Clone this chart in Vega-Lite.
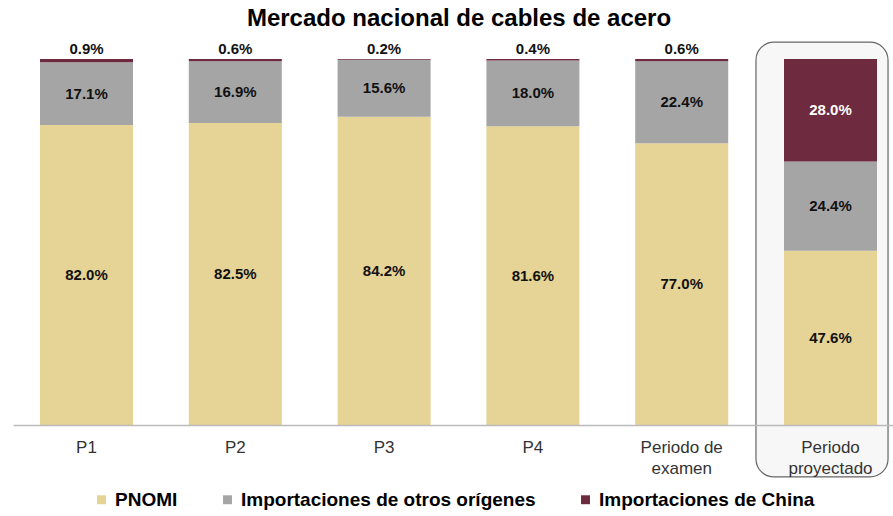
{
  "$schema": "https://vega.github.io/schema/vega-lite/v6.json",
  "autosize": {"type": "none"},
  "width": 880,
  "height": 366,
  "padding": {"left": 13, "top": 59, "right": 0, "bottom": 91},
  "background": "white",
  "title": {
    "text": "Mercado nacional de cables de acero",
    "fontSize": 24,
    "fontWeight": "bold",
    "font": "Liberation Sans",
    "color": "#000000",
    "anchor": "middle",
    "dx": 6,
    "offset": 11
  },
  "config": {
    "font": "Liberation Sans",
    "view": {"stroke": null},
    "legend": {"layout": {"bottom": {"anchor": "middle"}}}
  },
  "datasets": {
    "cuotas": [
      {"periodo": "P1", "serie": "PNOMI", "orden": 1, "valor": 0.820},
      {"periodo": "P1", "serie": "Importaciones de otros orígenes", "orden": 2, "valor": 0.171},
      {"periodo": "P1", "serie": "Importaciones de China", "orden": 3, "valor": 0.009},
      {"periodo": "P2", "serie": "PNOMI", "orden": 1, "valor": 0.825},
      {"periodo": "P2", "serie": "Importaciones de otros orígenes", "orden": 2, "valor": 0.169},
      {"periodo": "P2", "serie": "Importaciones de China", "orden": 3, "valor": 0.006},
      {"periodo": "P3", "serie": "PNOMI", "orden": 1, "valor": 0.842},
      {"periodo": "P3", "serie": "Importaciones de otros orígenes", "orden": 2, "valor": 0.156},
      {"periodo": "P3", "serie": "Importaciones de China", "orden": 3, "valor": 0.002},
      {"periodo": "P4", "serie": "PNOMI", "orden": 1, "valor": 0.816},
      {"periodo": "P4", "serie": "Importaciones de otros orígenes", "orden": 2, "valor": 0.180},
      {"periodo": "P4", "serie": "Importaciones de China", "orden": 3, "valor": 0.004},
      {"periodo": "Periodo de examen", "serie": "PNOMI", "orden": 1, "valor": 0.770},
      {"periodo": "Periodo de examen", "serie": "Importaciones de otros orígenes", "orden": 2, "valor": 0.224},
      {"periodo": "Periodo de examen", "serie": "Importaciones de China", "orden": 3, "valor": 0.006},
      {"periodo": "Periodo proyectado", "serie": "PNOMI", "orden": 1, "valor": 0.476},
      {"periodo": "Periodo proyectado", "serie": "Importaciones de otros orígenes", "orden": 2, "valor": 0.244},
      {"periodo": "Periodo proyectado", "serie": "Importaciones de China", "orden": 3, "valor": 0.280}
    ],
    "marco": [
      {"periodo": "Periodo proyectado"}
    ]
  },
  "data": {"name": "cuotas"},
  "encoding": {
    "x": {
      "field": "periodo",
      "type": "nominal",
      "sort": ["P1", "P2", "P3", "P4", "Periodo de examen", "Periodo proyectado"],
      "scale": {"paddingInner": 0.375, "paddingOuter": 0.1445, "align": 0.628},
      "axis": {
        "title": null,
        "labelAngle": 0,
        "labelAlign": "center",
        "labelBaseline": "top",
        "labelFontSize": 17,
        "labelColor": "#333333",
        "labelPadding": 14,
        "labelLineHeight": 21,
        "ticks": false,
        "domainColor": "#bbbbbb",
        "domainWidth": 1.5,
        "zindex": 1,
        "labelExpr": "datum.label == 'Periodo de examen' ? ['Periodo de', 'examen'] : datum.label == 'Periodo proyectado' ? ['Periodo', 'proyectado'] : datum.label"
      }
    }
  },
  "layer": [
    {
      "data": {"name": "marco"},
      "mark": {
        "type": "rect",
        "fill": "#f7f7f7",
        "stroke": "#666666",
        "strokeWidth": 1.2,
        "cornerRadius": 18,
        "width": {"band": 1.42},
        "xOffset": -8.5
      },
      "encoding": {
        "y": {"datum": 1.046, "type": "quantitative", "axis": null, "title": null},
        "y2": {"datum": -0.142}
      }
    },
    {
      "mark": {"type": "bar"},
      "encoding": {
        "y": {
          "field": "valor",
          "type": "quantitative",
          "stack": "zero",
          "title": null,
          "scale": {"domain": [0, 1], "nice": false},
          "axis": null
        },
        "order": {"field": "orden", "type": "quantitative"},
        "color": {
          "field": "serie",
          "type": "nominal",
          "scale": {
            "domain": ["PNOMI", "Importaciones de otros orígenes", "Importaciones de China"],
            "range": ["#e6d396", "#a5a5a5", "#6e2a3e"]
          },
          "legend": {
            "orient": "bottom",
            "direction": "horizontal",
            "title": null,
            "labelFontSize": 19,
            "labelFontWeight": "bold",
            "labelColor": "#000000",
            "labelLimit": 500,
            "symbolType": "square",
            "symbolSize": 80,
            "symbolStrokeWidth": 0,
            "columnPadding": 40,
            "labelOffset": 4,
            "offset": 14
          }
        }
      }
    },
    {
      "transform": [
        {"stack": "valor", "groupby": ["periodo"], "sort": [{"field": "orden", "order": "ascending"}], "as": ["y0", "y1"]},
        {"calculate": "(datum.y0 + datum.y1) / 2", "as": "mid"},
        {"filter": "datum.serie != 'Importaciones de China' || datum.periodo == 'Periodo proyectado'"}
      ],
      "mark": {"type": "text", "fontSize": 15, "fontWeight": "bold", "baseline": "middle"},
      "encoding": {
        "y": {"field": "mid", "type": "quantitative", "title": null},
        "text": {"field": "valor", "type": "quantitative", "format": ".1%"},
        "color": {
          "condition": {"test": "datum.serie == 'Importaciones de China'", "value": "#ffffff"},
          "value": "#111111"
        }
      }
    },
    {
      "transform": [
        {"stack": "valor", "groupby": ["periodo"], "sort": [{"field": "orden", "order": "ascending"}], "as": ["y0", "y1"]},
        {"filter": "datum.serie == 'Importaciones de China' && datum.periodo != 'Periodo proyectado'"}
      ],
      "mark": {"type": "text", "fontSize": 15, "fontWeight": "bold", "baseline": "middle", "dy": -10, "color": "#111111"},
      "encoding": {
        "y": {"field": "y1", "type": "quantitative", "title": null},
        "text": {"field": "valor", "type": "quantitative", "format": ".1%"}
      }
    }
  ]
}
